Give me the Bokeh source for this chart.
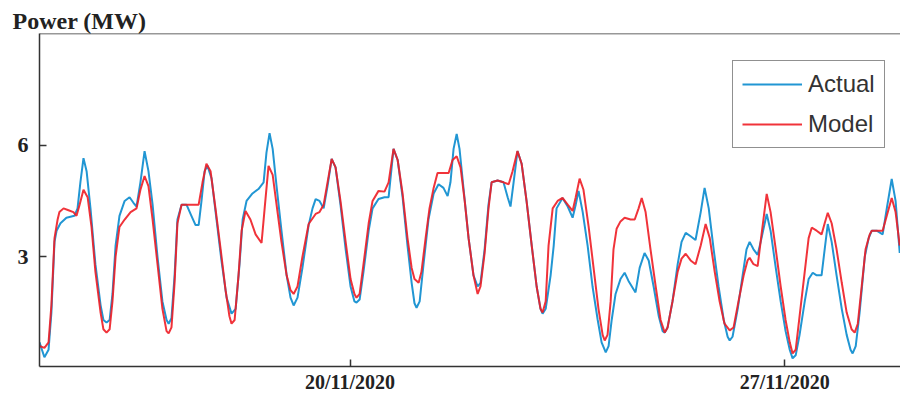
import pandas as pd
from bokeh.plotting import figure
from bokeh.models import (Range1d, FixedTicker, DatetimeTickFormatter, Legend,
                          LegendItem, Span, Title)
from bokeh.embed import file_html
from bokeh.resources import INLINE

start_time = "2020-11-15 00:00"
end_offset_hours = 332.7

actual_hours = [0.0, 1.9, 3.5, 4.6, 5.8, 6.6, 8.1, 10.4, 13.5, 14.7, 15.8, 17.0, 18.2, 19.7, 21.6, 23.6,
                24.7, 25.9, 27.1, 28.2, 29.4, 30.9, 32.9, 34.8, 36.3, 37.5, 39.0, 40.6, 42.1, 43.7, 45.6, 47.5,
                49.1, 49.9, 51.0, 52.2, 53.3, 54.9, 56.8, 58.7, 60.3, 61.5, 62.6, 63.8, 64.9, 66.5, 68.4, 70.3,
                72.3, 74.2, 75.8, 77.3, 78.5, 80.0, 82.3, 84.6, 86.6, 87.7, 88.9, 90.1, 91.6, 93.5, 95.5, 97.0,
                98.2, 99.7, 101.6, 104.0, 105.5, 106.7, 108.2, 109.8, 111.3, 112.9, 114.4, 116.3, 118.3, 120.2,
                121.7, 122.5, 123.7, 125.2, 127.2, 128.7, 131.0, 133.3, 134.9, 136.8, 138.4, 140.3, 142.2, 143.8,
                144.9, 145.7, 146.9, 148.4, 150.3, 152.3, 154.2, 156.1, 157.7, 158.8, 160.0, 161.2, 162.3, 163.9,
                165.8, 167.7, 169.3, 170.4, 172.0, 173.5, 174.7, 177.0, 179.3, 180.9, 182.0, 183.2, 184.7, 186.3,
                188.2, 190.2, 192.1, 193.6, 194.4, 195.6, 197.5, 198.7, 199.8, 202.1, 204.1, 206.0, 207.2, 208.3,
                209.9, 211.8, 213.7, 215.7, 217.2, 218.8, 219.9, 221.1, 222.6, 224.5, 226.1, 227.6, 230.3, 231.9,
                233.8, 235.4, 237.3, 239.3, 240.8, 241.6, 242.7, 244.6, 246.6, 248.1, 249.7, 251.6, 253.5, 255.5,
                257.0, 258.6, 260.5, 262.4, 264.4, 265.9, 266.7, 267.8, 269.8, 271.7, 273.2, 274.4, 275.9, 277.5,
                279.0, 281.0, 282.5, 284.5, 286.4, 288.3, 289.9, 291.0, 292.2, 293.7, 295.7, 297.2, 298.8, 300.3,
                302.2, 303.4, 304.6, 306.1, 308.0, 310.0, 311.9, 313.4, 314.2, 315.4, 316.9, 318.9, 320.4, 321.6,
                323.5, 325.8, 327.4, 329.3, 330.8, 332.4]
actual_mw = [0.7, 0.3, 0.5, 1.5, 3.4, 3.7, 3.9, 4.05, 4.1, 4.3, 5.0, 5.65, 5.3, 4.3, 2.8, 1.7,
             1.3, 1.23, 1.3, 2.0, 3.3, 4.1, 4.5, 4.6, 4.45, 4.35, 5.0, 5.84, 5.3, 4.4, 3.0, 1.8,
             1.3, 1.2, 1.35, 2.5, 4.0, 4.4, 4.4, 4.1, 3.85, 3.85, 4.5, 5.3, 5.45, 5.1, 4.0, 2.9,
             1.9, 1.47, 1.6, 2.8, 4.0, 4.5, 4.7, 4.82, 5.0, 5.8, 6.32, 5.9, 4.9, 3.7, 2.5, 1.9,
             1.69, 1.9, 2.7, 3.85, 4.3, 4.55, 4.5, 4.3, 4.9, 5.63, 5.4, 4.4, 3.2, 2.2,
             1.8, 1.77, 1.85, 2.6, 3.7, 4.3, 4.55, 4.6, 4.6, 5.9, 5.6, 4.6, 3.3, 2.3,
             1.75, 1.63, 1.8, 2.8, 4.0, 4.7, 4.95, 4.85, 4.63, 5.0, 5.9, 6.3, 5.9, 4.8,
             3.5, 2.5, 2.2, 2.3, 3.2, 4.4, 5.0, 5.05, 5.0, 4.6, 4.35, 5.0, 5.84, 5.5,
             4.5, 3.3, 2.2, 1.6, 1.47, 1.6, 2.5, 3.3, 4.3, 4.58, 4.35, 4.05, 4.4, 4.77,
             4.2, 3.3, 2.2, 1.3, 0.7, 0.43, 0.6, 1.3, 2.0, 2.4, 2.57, 2.35, 2.04, 2.7,
             3.1, 2.9, 2.2, 1.4, 1.0, 0.96, 1.1, 1.8, 2.8, 3.4, 3.64, 3.55, 3.45, 4.2,
             4.85, 4.3, 3.2, 2.2, 1.3, 0.85, 0.75, 0.85, 1.6, 2.5, 3.2, 3.4, 3.2, 3.05,
             3.5, 4.15, 3.7, 2.7, 1.8, 1.0, 0.5, 0.27, 0.35, 0.9, 1.8, 2.4, 2.57, 2.5,
             2.5, 3.2, 3.88, 3.4, 2.5, 1.6, 0.9, 0.5, 0.4, 0.6, 1.5, 3.0, 3.5, 3.7,
             3.7, 3.6, 4.3, 5.09, 4.5, 3.1]

model_hours = [0.0, 1.9, 3.5, 4.6, 5.8, 7.0, 7.7, 9.3, 11.2, 13.1, 14.3, 15.5, 17.0, 18.6, 20.1, 21.6,
               23.6, 24.7, 25.9, 27.1, 28.2, 29.4, 30.9, 32.9, 35.2, 37.5, 39.0, 40.6, 42.1, 43.7, 45.6, 47.5,
               49.1, 49.9, 51.0, 52.2, 53.3, 54.9, 58.4, 61.5, 63.0, 64.5, 66.1, 68.0, 70.0, 71.9, 73.4, 74.2,
               75.4, 76.9, 78.1, 79.6, 81.5, 83.5, 85.8, 87.0, 88.5, 90.1, 91.6, 93.5, 95.5, 97.0, 98.2, 99.7,
               101.6, 104.0, 106.7, 108.2, 109.8, 111.3, 112.9, 114.4, 116.3, 118.3, 120.2, 121.7, 122.5, 123.7,
               125.2, 127.2, 128.7, 131.0, 133.3, 134.9, 136.8, 138.4, 140.3, 142.2, 143.8, 144.9, 146.5, 147.6,
               149.2, 150.7, 152.3, 153.8, 156.1, 158.1, 159.6, 161.2, 162.7, 164.3, 165.8, 167.7, 169.3, 170.4,
               172.0, 173.5, 174.7, 177.0, 179.3, 181.3, 182.8, 184.7, 186.3, 188.2, 190.2, 192.1, 193.6, 194.4,
               195.6, 196.7, 198.3, 200.2, 202.1, 204.1, 206.0, 207.2, 208.7, 210.2, 212.2, 214.1, 216.0, 217.6,
               218.4, 219.5, 220.7, 221.8, 223.0, 224.5, 226.1, 228.4, 230.0, 231.5, 232.7, 234.2, 236.1, 238.1,
               240.0, 241.6, 242.7, 244.6, 246.6, 248.1, 249.7, 251.6, 253.5, 255.5, 257.4, 259.0, 260.9, 262.8,
               264.7, 266.7, 268.2, 270.1, 272.1, 273.6, 274.4, 275.9, 277.5, 279.0, 281.0, 282.5, 284.5, 286.4,
               288.3, 289.9, 291.0, 292.2, 293.7, 295.7, 297.2, 298.4, 300.3, 302.2, 303.4, 304.6, 306.1, 308.0,
               310.0, 311.9, 313.8, 315.0, 316.2, 317.7, 319.2, 320.8, 321.6, 323.5, 325.8, 327.4, 329.3, 330.8,
               332.4]
model_mw = [0.6, 0.55, 0.7, 1.7, 3.5, 4.0, 4.2, 4.3, 4.25, 4.2, 4.1, 4.4, 4.8, 4.6, 3.8, 2.6,
            1.5, 1.05, 0.96, 1.05, 1.8, 3.0, 3.8, 4.0, 4.2, 4.3, 4.8, 5.17, 4.9, 4.0, 2.8, 1.6,
            1.0, 0.94, 1.1, 2.3, 3.9, 4.4, 4.4, 4.4, 5.0, 5.5, 5.3, 4.3, 3.2, 2.1, 1.4, 1.2,
            1.3, 2.5, 3.7, 4.23, 4.0, 3.6, 3.37, 4.3, 5.44, 5.2, 4.4, 3.4, 2.5, 2.1, 2.0, 2.2,
            3.0, 3.88, 4.15, 4.2, 4.4, 5.0, 5.63, 5.4, 4.5, 3.4, 2.4, 2.0, 1.9, 2.0,
            2.8, 3.9, 4.5, 4.77, 4.75, 5.0, 5.9, 5.6, 4.7, 3.5, 2.7, 2.4, 2.3, 2.6,
            3.5, 4.3, 4.85, 5.25, 5.25, 5.25, 5.6, 5.7, 5.4, 4.5, 3.5, 2.5, 2.0, 2.2,
            3.1, 4.3, 5.0, 5.05, 5.0, 4.95, 5.3, 5.84, 5.5, 4.5, 3.3, 2.2, 1.6, 1.5,
            1.8, 3.3, 4.3, 4.5, 4.58, 4.4, 4.23, 4.6, 5.1, 4.8, 3.8, 2.7, 1.6, 0.9,
            0.75, 0.9, 1.8, 3.2, 3.75, 3.95, 4.05, 4.0, 4.0, 4.3, 4.58, 4.2, 3.2, 2.2,
            1.3, 0.96, 1.1, 1.8, 2.6, 2.95, 3.08, 2.9, 2.8, 3.3, 3.88, 3.5, 2.6, 1.8,
            1.2, 1.02, 1.1, 1.8, 2.5, 2.9, 2.97, 2.8, 2.75, 3.6, 4.69, 4.2, 3.2, 2.2,
            1.3, 0.7, 0.4, 0.5, 1.4, 2.6, 3.5, 3.78, 3.7, 3.6, 3.9, 4.18, 3.9, 3.2,
            2.3, 1.5, 1.05, 0.96, 1.2, 2.2, 3.2, 3.6, 3.7, 3.7, 3.7, 4.1, 4.58, 4.2,
            3.3]

x_tick_dates = ["2020-11-20", "2020-11-27"]
y_ticks = [3, 6]
series_names = ["Actual", "Model"]

start = pd.Timestamp(start_time)
actual_t = start + pd.to_timedelta(actual_hours, unit="h")
model_t = start + pd.to_timedelta(model_hours, unit="h")
end = start + pd.Timedelta(hours=end_offset_hours)

p = figure(width=900, height=396, x_axis_type="datetime", output_backend="svg",
           toolbar_location=None,
           x_range=Range1d(start.to_pydatetime(), end.to_pydatetime()),
           y_range=Range1d(0.05, 9.0),
           min_border_left=39, min_border_right=0, min_border_top=33, min_border_bottom=30)

p.title = Title(text="Power (MW)", align="left", offset=-27, standoff=0,
                text_font="Liberation Serif", text_font_size="24px",
                text_font_style="bold", text_color="#222222")

r_act = p.line(actual_t, actual_mw, line_color="#2196d3", line_width=2)
r_mod = p.line(model_t, model_mw, line_color="#ee1d25", line_width=2, line_alpha=0.9)

p.xgrid.visible = False
p.ygrid.visible = False
p.outline_line_color = None
p.background_fill_color = "white"
p.border_fill_color = "white"

tick_ms = [pd.Timestamp(d).value // 10**6 for d in x_tick_dates]
p.xaxis.ticker = FixedTicker(ticks=tick_ms)
fmt = "%d/%m/%Y"
p.xaxis.formatter = DatetimeTickFormatter(milliseconds=fmt, seconds=fmt, minsec=fmt, minutes=fmt,
                                          hourmin=fmt, hours=fmt, days=fmt, months=fmt, years=fmt)
p.yaxis.ticker = FixedTicker(ticks=y_ticks)

for ax in (p.xaxis[0], p.yaxis[0]):
    ax.axis_line_color = "#333333"
    ax.axis_line_width = 1.5
    ax.major_tick_in = 7
    ax.major_tick_out = 0
    ax.major_tick_line_color = "#333333"
    ax.major_tick_line_width = 1.5
    ax.minor_tick_line_color = None
    ax.major_label_text_font = "Liberation Serif"
    ax.major_label_text_font_style = "bold"
    ax.major_label_text_color = "#222222"

p.yaxis.major_label_text_font_size = "22px"
p.yaxis.major_label_standoff = 11
p.xaxis.major_label_text_font_size = "20px"
p.xaxis.major_label_standoff = 4

p.add_layout(Span(location=9.0, dimension="width", line_color="#333333", line_width=1.5))

legend = Legend(items=[LegendItem(label=series_names[0], renderers=[r_act]),
                       LegendItem(label=series_names[1], renderers=[r_mod])],
                location=(693, 218), orientation="vertical",
                glyph_width=60, glyph_height=26, label_height=26, label_standoff=6,
                spacing=12, padding=9, margin=0,
                label_text_font="Liberation Sans", label_text_font_size="24px",
                label_text_color="#333333",
                border_line_color="#222222", border_line_width=1.5,
                background_fill_color="white", background_fill_alpha=1.0)
p.add_layout(legend)

open("out.html", "w").write(file_html(p, INLINE))
